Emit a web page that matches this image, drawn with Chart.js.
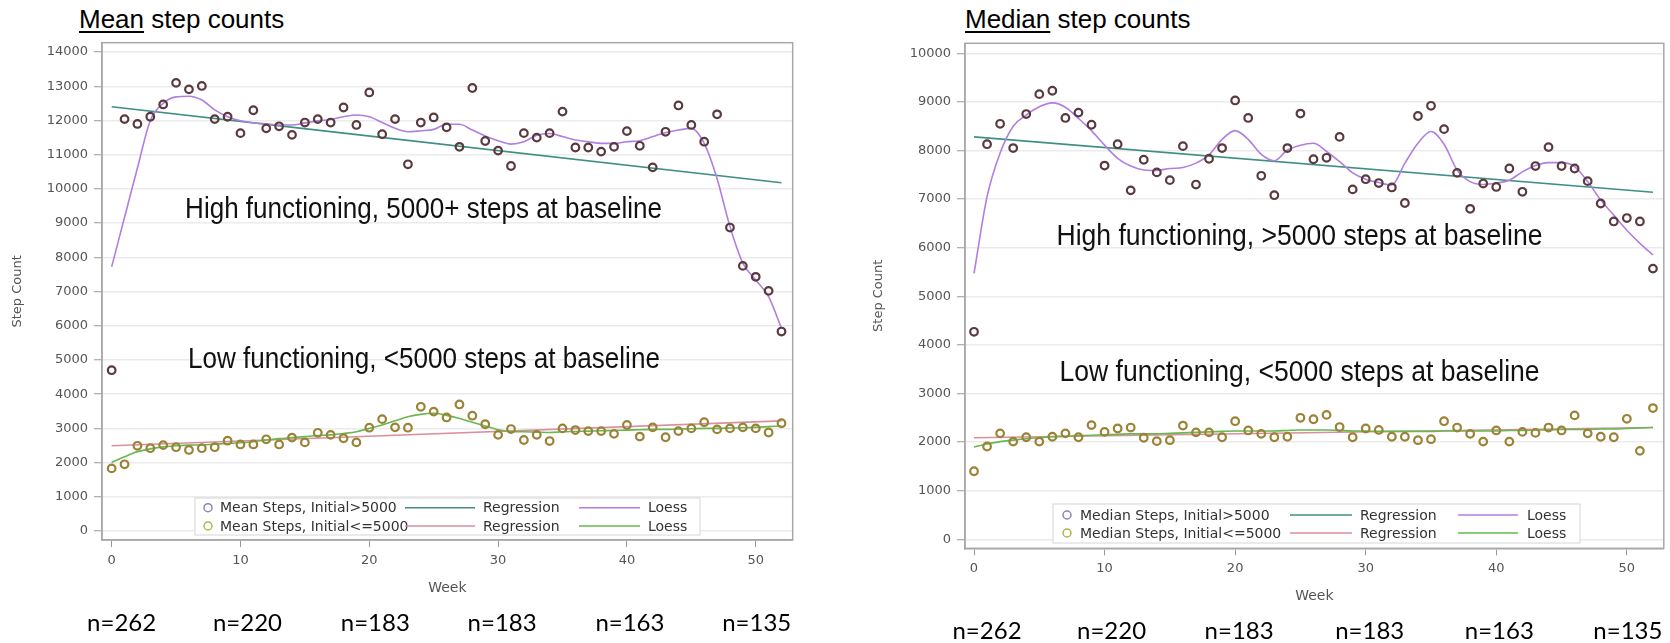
<!DOCTYPE html>
<html>
<head>
<meta charset="utf-8">
<script src="https://cdn.jsdelivr.net/npm/chart.js@4.4.1/dist/chart.umd.min.js"></script>
<style>
  body { margin: 0; background: #fff; width: 1670px; height: 643px; position: relative; overflow: hidden; }
  canvas { position: absolute; top: 0; }
  .title { position: absolute; top: 4px; font: 26px 'Liberation Sans', Arial, sans-serif; color: #000; white-space: nowrap; }
  .title u { text-decoration-thickness: 1.5px; text-underline-offset: 3px; }
</style>
</head>
<body>
<div class="title" style="left:79px"><u>Mean</u> step counts</div>
<div class="title" style="left:965px"><u>Median</u> step counts</div>
<canvas id="meanChart" width="835" height="643" style="left:0"></canvas>
<canvas id="medianChart" width="835" height="643" style="left:835px"></canvas>
<script>
const weeks = [0, 1, 2, 3, 4, 5, 6, 7, 8, 9, 10, 11, 12, 13, 14, 15, 16, 17, 18, 19, 20, 21, 22, 23, 24, 25, 26,
  27, 28, 29, 30, 31, 32, 33, 34, 35, 36, 37, 38, 39, 40, 41, 42, 43, 44, 45, 46, 47, 48, 49, 50, 51, 52];
const regWeeks = [0, 52];
const xTicks = [0, 10, 20, 30, 40, 50];
const nLabels = ['n=262', 'n=220', 'n=183', 'n=183', 'n=163', 'n=135'];

// Mean step counts
const meanHigh = [4700, 12040, 11900, 12110, 12470, 13100, 12910, 13010, 12040, 12110, 11630, 12300, 11770,
  11830, 11580, 11940, 12040, 11940, 12380, 11870, 12820, 11600, 12040, 10720, 11940, 12090, 11800, 11230,
  12950, 11400, 11120, 10670, 11630, 11500, 11630, 12260, 11210, 11210, 11090, 11230, 11690, 11260, 10630,
  11670, 12440, 11870, 11380, 12180, 8870, 7750, 7430, 7020, 5830];
const meanLow = [1830, 1950, 2490, 2420, 2510, 2450, 2370, 2420, 2450, 2640, 2530, 2530, 2680, 2530, 2730,
  2590, 2870, 2810, 2710, 2590, 3020, 3270, 3030, 3020, 3630, 3490, 3320, 3700, 3370, 3120, 2810, 2980, 2660,
  2810, 2630, 3000, 2950, 2920, 2920, 2840, 3100, 2760, 3030, 2740, 2920, 3000, 3180, 2970, 3000, 3030, 3000,
  2880, 3150];
const meanHighLoess = [7720, 9170, 10610, 12000, 12500, 12690, 12710, 12600, 12310, 12110, 11990, 11935, 11900,
  11870, 11870, 11930, 11990, 12030, 12110, 12160, 12110, 11940, 11770, 11670, 11700, 11740, 11890, 11890,
  11720, 11550, 11410, 11310, 11380, 11570, 11620, 11530, 11430, 11380, 11330, 11330, 11380, 11410, 11530,
  11640, 11720, 11770, 11330, 10300, 8900, 7830, 7340, 6850, 5920];
const meanLowLoess = [2010, 2170, 2320, 2400, 2460, 2490, 2510, 2515, 2540, 2560, 2580, 2610, 2660, 2700, 2730,
  2760, 2790, 2810, 2850, 2900, 3000, 3100, 3220, 3340, 3410, 3440, 3380, 3290, 3180, 3070, 2960, 2910, 2900,
  2890, 2880, 2900, 2910, 2920, 2930, 2940, 2950, 2960, 2970, 2970, 2980, 2990, 3000, 3000, 3010, 3020, 3030,
  3050, 3070];
const meanHighReg = [12400, 10180];
const meanLowReg = [2490, 3220];
const meanYTicks = [0, 1000, 2000, 3000, 4000, 5000, 6000, 7000, 8000, 9000, 10000, 11000, 12000, 13000, 14000];

// Median step counts
const medianHigh = [4270, 8130, 8550, 8050, 8750, 9160, 9230, 8670, 8780, 8530, 7690, 8130, 7180, 7810, 7550,
  7390, 8090, 7300, 7830, 8050, 9030, 8670, 7480, 7080, 8050, 8760, 7820, 7850, 8280, 7200, 7410, 7330, 7240,
  6920, 8710, 8920, 8440, 7540, 6800, 7320, 7250, 7630, 7150, 7680, 8070, 7680, 7630, 7370, 6910, 6540, 6610,
  6540, 5570];
const medianLow = [1400, 1910, 2180, 2010, 2100, 2010, 2110, 2180, 2100, 2350, 2210, 2280, 2300, 2090, 2020,
  2040, 2340, 2200, 2200, 2100, 2430, 2240, 2170, 2100, 2110, 2500, 2470, 2560, 2310, 2100, 2280, 2250, 2110,
  2110, 2040, 2060, 2430, 2300, 2170, 2010, 2240, 2010, 2210, 2190, 2300, 2240, 2550, 2180, 2110, 2100, 2480,
  1820, 2700];
const medianHighLoess = [5470, 7050, 7950, 8500, 8730, 8900, 8980, 8890, 8660, 8410, 8110, 7840, 7680, 7600,
  7590, 7630, 7650, 7740, 7910, 8230, 8410, 8230, 7920, 7790, 8010, 8110, 8150, 7980, 7770, 7540, 7410, 7340,
  7290, 7740, 8150, 8390, 8130, 7600, 7360, 7300, 7330, 7390, 7560, 7690, 7750, 7750, 7670, 7360, 6980, 6670,
  6360, 6090, 5850];
const medianLowLoess = [1900, 1960, 2010, 2040, 2070, 2090, 2110, 2120, 2130, 2140, 2150, 2160, 2170, 2170,
  2170, 2180, 2190, 2200, 2210, 2220, 2230, 2230, 2230, 2230, 2240, 2250, 2250, 2250, 2240, 2230, 2230, 2220,
  2220, 2220, 2220, 2220, 2230, 2230, 2230, 2230, 2230, 2240, 2240, 2250, 2250, 2260, 2260, 2260, 2270, 2270,
  2280, 2290, 2300];
const medianHighReg = [8280, 7140];
const medianLowReg = [2090, 2300];
const medianYTicks = [0, 1000, 2000, 3000, 4000, 5000, 6000, 7000, 8000, 9000, 10000];

const colors = {
  highMarker: '#5a3a3e',
  lowMarker: '#9c8236',
  highLegend: '#8a86b8',
  lowLegend: '#b4b44a',
  highReg: '#3f8f84',
  lowReg: '#d9909e',
  highLoess: '#b07fe0',
  lowLoess: '#66b84f'
};

const tickFont = { family: 'DejaVu Sans', size: 13 };
const labelFont = { family: 'DejaVu Sans', size: 14 };

function pts(xs, ys) {
  return ys.map((y, i) => ({ x: xs[i], y: y }));
}

function fitText(ctx, text, x, y, width) {
  const w = ctx.measureText(text).width;
  ctx.save();
  ctx.translate(x, y);
  ctx.scale(width / w, 1);
  ctx.fillText(text, 0, 0);
  ctx.restore();
}

// plot frame, big annotations, in-plot legend and n= labels
const decor = {
  id: 'decor',
  afterDraw(chart, args, o) {
    const { ctx, chartArea: a, scales: { x, y } } = chart;
    ctx.save();
    ctx.strokeStyle = '#a8a8a8';
    ctx.lineWidth = 1.5;
    ctx.strokeRect(a.left, a.top, a.right - a.left, a.bottom - a.top);

    ctx.fillStyle = '#111';
    ctx.font = '29px "Liberation Sans", Arial, sans-serif';
    ctx.textBaseline = 'middle';
    ctx.textAlign = 'left';
    o.notes.forEach(n => fitText(ctx, n.text, x.getPixelForValue(n.week), y.getPixelForValue(n.value), n.width));

    // legend
    const lg = o.legend;
    ctx.fillStyle = '#fff';
    ctx.fillRect(lg.x, lg.y, lg.w, lg.h);
    ctx.strokeStyle = '#d6d6d6';
    ctx.lineWidth = 1;
    ctx.strokeRect(lg.x, lg.y, lg.w, lg.h);
    ctx.font = '14px "DejaVu Sans", sans-serif';
    lg.rows.forEach((r, i) => {
      const ry = lg.y + lg.rowY[i];
      ctx.beginPath();
      ctx.arc(lg.x + lg.cols[0], ry, 4, 0, Math.PI * 2);
      ctx.strokeStyle = r.marker;
      ctx.lineWidth = 1.5;
      ctx.stroke();
      ctx.fillStyle = '#333';
      ctx.fillText(r.label, lg.x + lg.cols[1], ry + 1);
      [[r.reg, 'Regression', 2], [r.loess, 'Loess', 5]].forEach(([c, t, k]) => {
        ctx.strokeStyle = c;
        ctx.lineWidth = 1.5;
        ctx.beginPath();
        ctx.moveTo(lg.x + lg.cols[k], ry);
        ctx.lineTo(lg.x + lg.cols[k + 1], ry);
        ctx.stroke();
        ctx.fillText(t, lg.x + lg.cols[k + 2], ry + 1);
      });
    });

    // sample sizes under the axis
    ctx.fillStyle = '#000';
    ctx.font = '24px Lato, "Open Sans", sans-serif';
    ctx.textAlign = 'center';
    nLabels.forEach((t, i) => ctx.fillText(t, x.getPixelForValue(xTicks[i]) + o.nShift[i], o.nY));
    ctx.restore();
  }
};

function makePanel(id, g) {
  const markerSet = (data, c) => ({
    data: pts(weeks, data), showLine: false, pointStyle: 'circle', pointRadius: 3.8,
    pointBorderWidth: 2.2, pointBorderColor: c, pointBackgroundColor: 'rgba(255,255,255,0)'
  });
  const lineSet = (xs, data, c) => ({
    data: pts(xs, data), showLine: true, pointRadius: 0, borderColor: c, borderWidth: 1.6,
    cubicInterpolationMode: 'monotone', fill: false
  });
  return new Chart(document.getElementById(id), {
    type: 'scatter',
    data: {
      datasets: [
        markerSet(g.high, colors.highMarker),
        markerSet(g.low, colors.lowMarker),
        lineSet(weeks, g.highLoess, colors.highLoess),
        lineSet(weeks, g.lowLoess, colors.lowLoess),
        lineSet(regWeeks, g.highReg, colors.highReg),
        lineSet(regWeeks, g.lowReg, colors.lowReg)
      ]
    },
    options: {
      responsive: false,
      animation: false,
      events: [],
      layout: { padding: { top: g.padTop, right: g.padRight, left: 0, bottom: 0 } },
      plugins: { legend: { display: false }, tooltip: { enabled: false }, decor: g.decor },
      scales: {
        x: {
          type: 'linear', min: g.xMin, max: g.xMax,
          afterBuildTicks: s => { s.ticks = xTicks.map(v => ({ value: v })); },
          afterFit: s => { s.height = g.xAxisH; },
          grid: { drawOnChartArea: false, tickLength: 7, tickColor: '#999', tickWidth: 1 },
          border: { color: '#a8a8a8', width: 1.5 },
          ticks: { color: '#555', font: tickFont, padding: 6, maxRotation: 0, autoSkip: false, callback: v => String(v) },
          title: { display: true, text: 'Week', color: '#555', font: labelFont, padding: { top: 0, bottom: g.weekPad } }
        },
        y: {
          min: g.yMin, max: g.yMax,
          afterBuildTicks: s => { s.ticks = g.yTicks.map(v => ({ value: v })); },
          afterFit: s => { s.width = g.yAxisW; },
          grid: { color: '#ebebeb', lineWidth: 1.5, tickLength: 8, tickColor: '#999', tickWidth: 1 },
          border: { color: '#a8a8a8', width: 1.5 },
          ticks: { color: '#555', font: tickFont, padding: 6, autoSkip: false, callback: v => String(v) },
          title: { display: true, text: 'Step Count', color: '#555', font: { family: 'DejaVu Sans', size: 13 }, padding: { top: g.stepPad, bottom: 0 } }
        }
      }
    },
    plugins: [decor]
  });
}

makePanel('meanChart', {
  high: meanHigh, low: meanLow, highLoess: meanHighLoess, lowLoess: meanLowLoess,
  highReg: meanHighReg, lowReg: meanLowReg, yTicks: meanYTicks,
  xMin: -0.75, xMax: 52.87, yMin: -263, yMax: 14274,
  padTop: 42.7, padRight: 42.3, yAxisW: 102, xAxisH: 103, weekPad: 46, stepPad: 10,
  decor: {
    notes: [
      { text: 'High functioning, 5000+ steps at baseline', week: 5.7, value: 9380, width: 477 },
      { text: 'Low functioning, <5000 steps at baseline', week: 5.92, value: 5000, width: 472 }
    ],
    legend: {
      x: 195, y: 498, w: 505, h: 37, rowY: [9.7, 28], cols: [13, 25, 210, 280, 288, 384, 445, 453],
      rows: [
        { label: 'Mean Steps, Initial>5000', marker: colors.highLegend, reg: colors.highReg, loess: colors.highLoess },
        { label: 'Mean Steps, Initial<=5000', marker: colors.lowLegend, reg: colors.lowReg, loess: colors.lowLoess }
      ]
    },
    nShift: [10, 7, 6, 4, 3, 1], nY: 623
  }
});

makePanel('medianChart', {
  high: medianHigh, low: medianLow, highLoess: medianHighLoess, lowLoess: medianLowLoess,
  highReg: medianHighReg, lowReg: medianLowReg, yTicks: medianYTicks,
  xMin: -0.69, xMax: 52.83, yMin: -185, yMax: 10206,
  padTop: 43.3, padRight: 2.3, yAxisW: 130, xAxisH: 94.7, weekPad: 38, stepPad: 36,
  decor: {
    notes: [
      { text: 'High functioning, >5000 steps at baseline', week: 6.32, value: 6220, width: 486 },
      { text: 'Low functioning, <5000 steps at baseline', week: 6.55, value: 3420, width: 480 }
    ],
    legend: {
      x: 218, y: 504, w: 527, h: 39, rowY: [11, 29], cols: [14, 27, 237, 299, 307, 405, 465, 474],
      rows: [
        { label: 'Median Steps, Initial>5000', marker: colors.highLegend, reg: colors.highReg, loess: colors.highLoess },
        { label: 'Median Steps, Initial<=5000', marker: colors.lowLegend, reg: colors.lowReg, loess: colors.lowLoess }
      ]
    },
    nShift: [13, 7, 4, 4, 3, 1], nY: 631
  }
});
</script>
</body>
</html>
